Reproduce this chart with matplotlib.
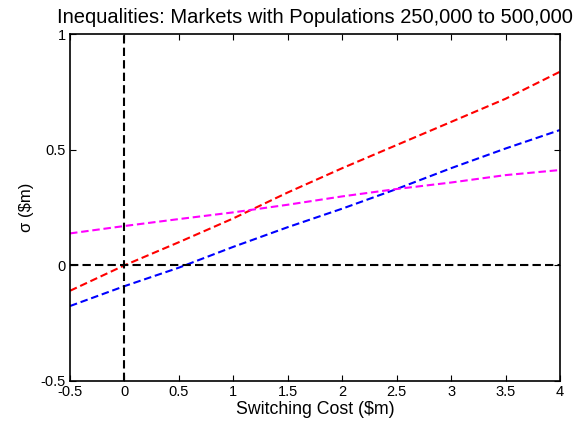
import matplotlib
matplotlib.use('Agg')
import matplotlib.pyplot as plt

plt.rcParams['font.family'] = ['Liberation Sans', 'DejaVu Sans']

# switching cost grid ($m)
cost = [-0.5, 0.0, 0.5, 1.0, 1.5, 2.0, 2.5, 3.0, 3.5, 4.0]

# inequality bounds
red_vals = [-0.11, 0.0, 0.10, 0.203, 0.315, 0.42, 0.52, 0.62, 0.72, 0.837]
blue_vals = [-0.176, -0.09, -0.01, 0.08, 0.165, 0.245, 0.33, 0.42, 0.505, 0.585]
magenta_vals = [0.138, 0.17, 0.20, 0.229, 0.262, 0.298, 0.33, 0.358, 0.39, 0.412]

xticks = [-0.5, 0, 0.5, 1, 1.5, 2, 2.5, 3, 3.5, 4]
xticklabels = ['-0.5', '0', '0.5', '1', '1.5', '2', '2.5', '3', '3.5', '4']
yticks = [-0.5, 0, 0.5, 1]
yticklabels = ['-0.5', '0', '0.5', '1']

fig = plt.figure(figsize=(5.81, 4.26), dpi=100)
ax = fig.add_axes([70 / 581, 1 - 381 / 426, 490 / 581, 347 / 426])

dash = (3.6, 1.8)
ax.plot(cost, red_vals, color='red', linewidth=1.5, dashes=dash)
ax.plot(cost, blue_vals, color='blue', linewidth=1.5, dashes=dash)
ax.plot(cost, magenta_vals, color='magenta', linewidth=1.5, dashes=dash)

ax.axhline(0, color='black', linewidth=1.5, dashes=(4, 2))
ax.axvline(0, color='black', linewidth=1.5, dashes=(4, 2))

ax.set_xlim(-0.5, 4)
ax.set_ylim(-0.5, 1)
ax.set_xticks(xticks)
ax.set_xticklabels(xticklabels)
ax.set_yticks(yticks)
ax.set_yticklabels(yticklabels)
ax.tick_params(direction='in', top=True, right=True, length=4, labelsize=10.5, pad=3)
for s in ax.spines.values():
    s.set_linewidth(1.2)

ax.set_title('Inequalities: Markets with Populations 250,000 to 500,000', fontsize=14.5, pad=8)
ax.set_xlabel('Switching Cost ($m)', fontsize=12.8, labelpad=1)
ax.set_ylabel('σ ($m)', fontsize=12, labelpad=5)

fig.savefig('out.png', dpi=100)
